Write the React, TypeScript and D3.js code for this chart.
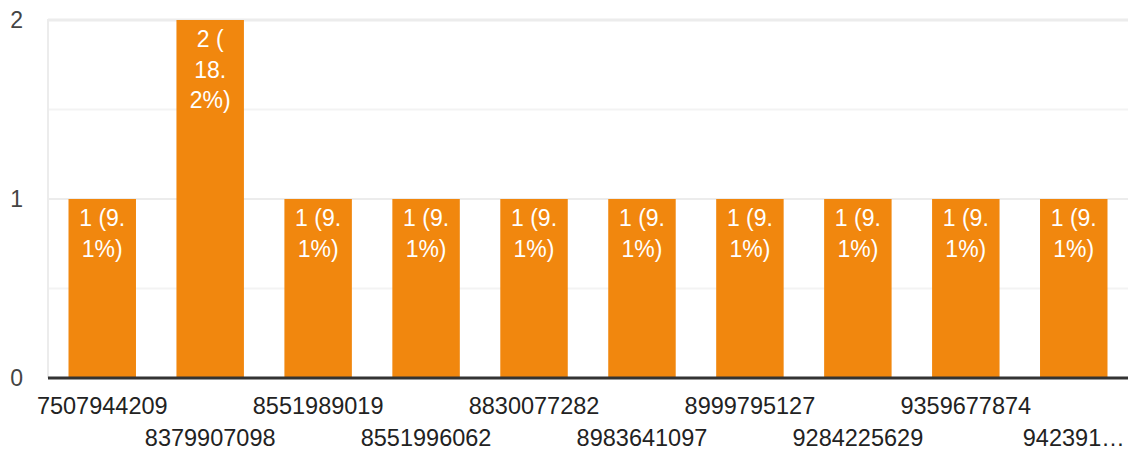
import React, { useMemo } from 'react'
import * as d3 from 'd3'

const categories = [
  '7507944209', '8379907098', '8551989019', '8551996062', '8830077282',
  '8983641097', '8999795127', '9284225629', '9359677874', '942391…',
]
const counts = [1, 2, 1, 1, 1, 1, 1, 1, 1, 1]
const percents = ['9.1', '18.2', '9.1', '9.1', '9.1', '9.1', '9.1', '9.1', '9.1', '9.1']
const yTicks = [0, 1, 2]
const gridTicks = [0.5, 1, 1.5, 2]

const WIDTH = 1128
const HEIGHT = 450
const MARGIN = { top: 20, right: 0, bottom: 72, left: 48 }
const FONT = 'Arial, "Liberation Sans", sans-serif'
const BAR_COLOR = '#f1870e'

// break label after spaces, "(" and "." like the original chart does
function wrapLabel(text: string, maxWidth: number, fontSize: number): string[] {
  const canvas = document.createElement('canvas')
  const ctx = canvas.getContext('2d')!
  ctx.font = `${fontSize}px ${FONT}`
  const tokens = text.match(/[^ (.]*[ (.]?/g)!.filter((t) => t.length > 0)
  const lines: string[] = []
  let cur = ''
  tokens.forEach((t) => {
    const next = cur + t
    if (cur && ctx.measureText(next.trimEnd()).width > maxWidth) {
      lines.push(cur.trimEnd())
      cur = t
    } else {
      cur = next
    }
  })
  if (cur) lines.push(cur.trimEnd())
  return lines
}

export default function App() {
  const xScale = useMemo(() => {
    return d3
      .scaleBand<string>()
      .domain(categories)
      .range([MARGIN.left, WIDTH - MARGIN.right])
      .paddingInner(0.375)
      .paddingOuter(0.19)
  }, [])

  const yScale = useMemo(() => {
    return d3
      .scaleLinear()
      .domain([0, 2])
      .range([HEIGHT - MARGIN.bottom, MARGIN.top])
  }, [])

  const base = yScale(0)

  return (
    <div style={{ position: 'absolute', left: 0, top: 0 }}>
      <svg width={WIDTH} height={HEIGHT} style={{ display: 'block', fontFamily: FONT }}>
        <rect x={0} y={0} width={WIDTH} height={HEIGHT} fill="#ffffff" />
        {/* grid */}
        {gridTicks.map((t) => (
          <line
            key={t}
            x1={MARGIN.left}
            x2={WIDTH - MARGIN.right}
            y1={yScale(t)}
            y2={yScale(t)}
            stroke={t % 1 === 0 ? '#ececec' : '#f3f3f3'}
            strokeWidth={t === 2 ? 3 : 2}
          />
        ))}
        <line
          x1={MARGIN.left}
          x2={MARGIN.left}
          y1={yScale(2) - 1}
          y2={base}
          stroke="#ececec"
          strokeWidth={2}
        />
        {/* bars */}
        {categories.map((c, i) => (
          <rect
            key={c}
            x={xScale(c)}
            y={yScale(counts[i])}
            width={xScale.bandwidth()}
            height={base - yScale(counts[i])}
            fill={BAR_COLOR}
          />
        ))}
        {/* bar labels */}
        {categories.map((c, i) => {
          const lines = wrapLabel(`${counts[i]} (${percents[i]}%)`, 54, 23)
          const cx = (xScale(c) || 0) + xScale.bandwidth() / 2
          return (
            <text
              key={'l' + c}
              x={cx}
              y={yScale(counts[i]) + 27}
              fill="#ffffff"
              fontSize={23}
              textAnchor="middle"
            >
              {lines.map((l, j) => (
                <tspan key={j} x={cx} dy={j === 0 ? 0 : 30.5}>
                  {l}
                </tspan>
              ))}
            </text>
          )
        })}
        {/* baseline */}
        <line
          x1={MARGIN.left}
          x2={WIDTH - MARGIN.right}
          y1={base}
          y2={base}
          stroke="#333333"
          strokeWidth={3}
        />
        {/* y axis labels */}
        {yTicks.map((t) => (
          <text
            key={'y' + t}
            x={23}
            y={yScale(t) + 8}
            textAnchor="end"
            fontSize={23}
            fill="#444444"
          >
            {t}
          </text>
        ))}
        {/* x axis labels, staggered */}
        {categories.map((c, i) => (
          <text
            key={'x' + c}
            x={(xScale(c) || 0) + xScale.bandwidth() / 2}
            y={i % 2 === 0 ? 414 : 446}
            textAnchor="middle"
            fontSize={23.5}
            fill="#222222"
          >
            {c}
          </text>
        ))}
      </svg>
    </div>
  )
}
